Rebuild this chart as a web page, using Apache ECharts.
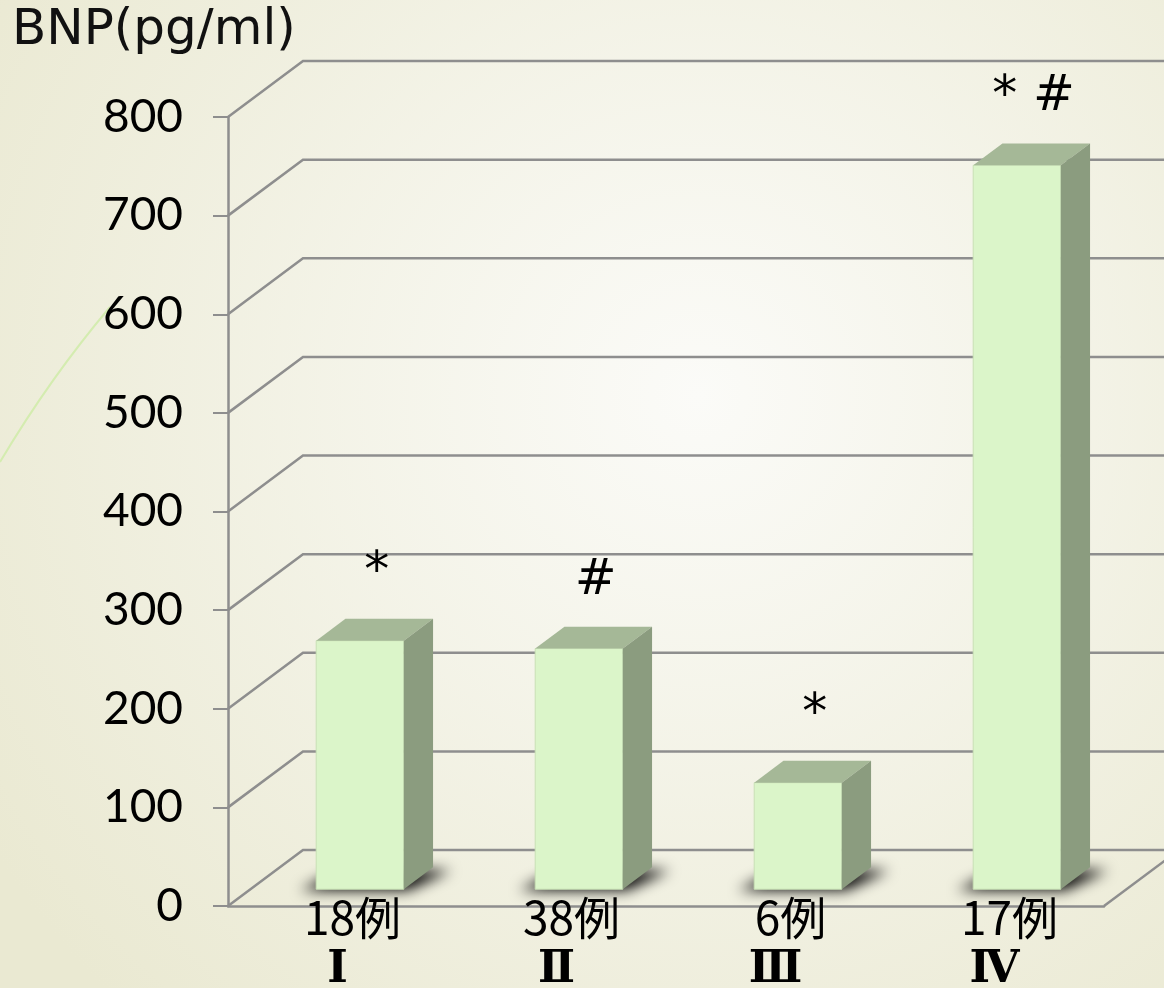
<!DOCTYPE html>
<html>
<head>
<meta charset="utf-8">
<script src="https://cdn.jsdelivr.net/npm/echarts@6/dist/echarts.min.js"></script>
<style>
  html, body { margin: 0; padding: 0; }
  #chart { width: 1164px; height: 988px; }
</style>
</head>
<body>
<div id="chart"></div>
<script>
const groups = ["Ⅰ", "Ⅱ", "Ⅲ", "Ⅳ"];
const caseCounts = ["18例", "38例", "6例", "17例"];
const bnpValues = [252, 244, 108, 734];
const markers = ["*", "#", "*", "* #"];
const yTicks = [0, 100, 200, 300, 400, 500, 600, 700, 800];

// fake 3D: floor depth offset in px, bar placement as fractions of depth/band
const DEPTH = [75, -56];
const BAR_FRONT = 0.3, BAR_DEPTH = 0.39, BAR_WIDTH = 0.4;
const lineColor = "#8e8e8e";
const numFont = "Lato, 'DejaVu Sans', sans-serif";
const FAR = 3000; // shadow-only trick: draw shape off-canvas, cast its shadow back

const chart = echarts.init(document.getElementById("chart"));

function renderWall(params, api) {
  const cs = params.coordSys;
  const v = api.value(1);
  const y = api.coord([0, v])[1];
  const left = cs.x, right = cs.x + cs.width;
  const style = { stroke: lineColor, lineWidth: 2.5, fill: null };
  const children = [{
    type: "polyline",
    shape: { points: [[left, y], [left + DEPTH[0], y + DEPTH[1]], [right + DEPTH[0] + 60, y + DEPTH[1]]] },
    style
  }];
  if (v === 0) {
    children.push({ type: "line", shape: { x1: right, y1: y, x2: right + DEPTH[0], y2: y + DEPTH[1] }, style });
  }
  return { type: "group", children };
}

function renderBar(params, api) {
  const i = api.value(0);
  const base = api.coord([i, 0]);
  const top = api.coord([i, api.value(1)]);
  const band = api.size([1, 0])[0];
  const w = band * BAR_WIDTH;
  const ox = DEPTH[0] * BAR_FRONT, oy = DEPTH[1] * BAR_FRONT;
  const dx = DEPTH[0] * BAR_DEPTH, dy = DEPTH[1] * BAR_DEPTH;
  const x0 = base[0] + ox - w / 2, x1 = x0 + w;
  const yb = base[1] + oy, yt = top[1] + oy;
  return {
    type: "group",
    children: [
      {
        type: "polygon",
        shape: { points: [
          [x0 - 16 - FAR, yb + 1], [x1 + 4 - FAR, yb + 1],
          [x1 + dx + 18 - FAR, yb + dy + 3], [x0 + dx - 4 - FAR, yb + dy + 3]
        ] },
        style: { fill: "#000", shadowBlur: 14, shadowColor: "rgba(0,0,0,1)", shadowOffsetX: FAR, shadowOffsetY: 0 }
      },
      { type: "rect", shape: { x: x0, y: yt, width: w, height: yb - yt }, style: { fill: "#dbf5c9", stroke: "#c8e0b5", lineWidth: 1 } },
      { type: "polygon", shape: { points: [[x0, yt], [x1, yt], [x1 + dx, yt + dy], [x0 + dx, yt + dy]] }, style: { fill: "#a5b897" } },
      { type: "polygon", shape: { points: [[x1, yt], [x1 + dx, yt + dy], [x1 + dx, yb + dy], [x1, yb]] }, style: { fill: "#8b9c7f" } },
      {
        type: "text",
        x: x0 + w / 2 + dx / 2 + 2,
        y: yt - 68,
        style: { text: markers[i], fill: "#000", font: "50px 'DejaVu Sans'", align: "center", verticalAlign: "middle" }
      }
    ]
  };
}

chart.setOption({
  animation: false,
  backgroundColor: {
    type: "radial", x: 0.6, y: 0.4, r: 0.85,
    colorStops: [{ offset: 0, color: "#fbfbf8" }, { offset: 1, color: "#eae9d2" }]
  },
  title: {
    text: "BNP(pg/ml)",
    left: 12, top: 6, padding: 0,
    textStyle: { fontSize: 50, fontWeight: "normal", color: "#111", fontFamily: "'DejaVu Sans', sans-serif" }
  },
  graphic: [{
    type: "bezierCurve",
    shape: { x1: 0, y1: 462, cpx1: 50, cpy1: 378, x2: 110, y2: 307 },
    style: { stroke: "#d4ecb0", lineWidth: 2, fill: null },
    z: 0
  }],
  grid: { left: 228, right: 60, top: 117, bottom: 82, containLabel: false, outerBoundsMode: "none" },
  xAxis: {
    type: "category",
    data: groups,
    axisLine: { lineStyle: { color: lineColor, width: 2.5 } },
    axisTick: { length: 15, lineStyle: { color: lineColor, width: 2 } },
    axisLabel: {
      margin: -12,
      interval: 0,
      formatter: (val, idx) => `{a|${caseCounts[idx]}}\n{b|${val}}`,
      rich: {
        a: { fontSize: 46, lineHeight: 48, color: "#000", fontFamily: "'Noto Sans CJK JP'", padding: [0, 0, 0, 30] },
        b: { fontSize: 44, lineHeight: 58, color: "#000", fontWeight: 600, fontFamily: "'DejaVu Serif', 'Noto Sans CJK JP'" }
      }
    },
    splitLine: { show: false }
  },
  yAxis: {
    type: "value",
    min: 0, max: 800, interval: 100,
    axisLine: { show: true, lineStyle: { color: lineColor, width: 2.5 } },
    axisTick: { show: true, length: 15, lineStyle: { color: lineColor, width: 2 } },
    axisLabel: { margin: 45, fontSize: 46, color: "#000", fontFamily: numFont },
    splitLine: { show: false }
  },
  series: [
    {
      type: "custom",
      renderItem: renderWall,
      clip: false,
      silent: true,
      z: 1,
      encode: { x: 0, y: 1 },
      data: yTicks.map(v => [0, v])
    },
    {
      type: "custom",
      renderItem: renderBar,
      clip: false,
      z: 3,
      encode: { x: 0, y: 1 },
      data: bnpValues.map((v, i) => [i, v])
    }
  ]
});
</script>
</body>
</html>
